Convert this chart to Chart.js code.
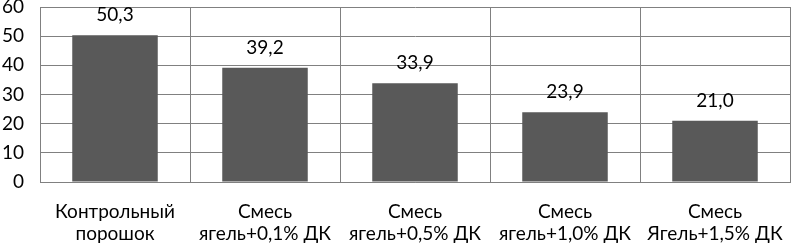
<!DOCTYPE html>
<html>
<head>
<meta charset="utf-8">
<script src="https://cdn.jsdelivr.net/npm/chart.js@4/dist/chart.umd.min.js"></script>
<style>
  html, body { margin: 0; padding: 0; background: #fff; }
  #wrap { width: 792px; height: 245px; }
</style>
</head>
<body>
<div id="wrap"><canvas id="myChart" width="792" height="245"></canvas></div>
<script>
const categories = [
  ["Контрольный", "порошок"],
  ["Смесь", "ягель+0,1% ДК"],
  ["Смесь", "ягель+0,5% ДК"],
  ["Смесь", "ягель+1,0% ДК"],
  ["Смесь", "Ягель+1,5% ДК"],
];
const values = [50.3, 39.2, 33.9, 23.9, 21.0];
const yTicks = [0, 10, 20, 30, 40, 50, 60];

const fontFamily = "Lato, 'Open Sans', sans-serif";

// draws the value above each bar, with a comma as decimal mark
const valueLabels = {
  id: "valueLabels",
  afterDatasetsDraw(chart) {
    const ctx = chart.ctx;
    const meta = chart.getDatasetMeta(0);
    ctx.save();
    ctx.font = "19px " + fontFamily;
    ctx.fillStyle = "#000";
    ctx.textAlign = "center";
    ctx.textBaseline = "middle";
    meta.data.forEach((bar, i) => {
      const txt = values[i].toFixed(1).replace(".", ",");
      ctx.fillText(txt, bar.x, bar.y - 20);
    });
    ctx.restore();
  },
};

const ctx = document.getElementById("myChart");
const chart = new Chart(ctx, {
  type: "bar",
  data: {
    labels: categories,
    datasets: [
      {
        data: values,
        backgroundColor: "#595959",
        borderWidth: 0,
        categoryPercentage: 1,
        barPercentage: 0.57,
      },
    ],
  },
  options: {
    responsive: false,
    animation: false,
    layout: {
      padding: { top: 7, right: 2, left: 0, bottom: 0 },
    },
    plugins: {
      legend: { display: false },
      tooltip: { enabled: false },
    },
    scales: {
      x: {
        grid: {
          color: "#808080",
          lineWidth: 1,
          drawTicks: false,
          offset: true,
        },
        border: { color: "#808080" },
        ticks: {
          color: "#000",
          padding: 19,
          maxRotation: 0,
          autoSkip: false,
          font: { family: fontFamily, size: 19, lineHeight: 1.17 },
        },
        afterFit(scale) {
          scale.height = 63;
          scale.paddingLeft = 0;
          scale.paddingRight = 0;
        },
      },
      y: {
        min: 0,
        max: 60,
        afterBuildTicks(scale) {
          scale.ticks = yTicks.map((v) => ({ value: v }));
        },
        grid: {
          color: "#808080",
          lineWidth: 1,
          drawTicks: false,
        },
        border: { color: "#808080" },
        ticks: {
          color: "#000",
          padding: 16,
          font: { family: fontFamily, size: 19 },
        },
        afterFit(scale) {
          scale.width = 40;
          scale.paddingTop = 0;
          scale.paddingBottom = 0;
        },
      },
    },
  },
  plugins: [valueLabels],
});
</script>
</body>
</html>
